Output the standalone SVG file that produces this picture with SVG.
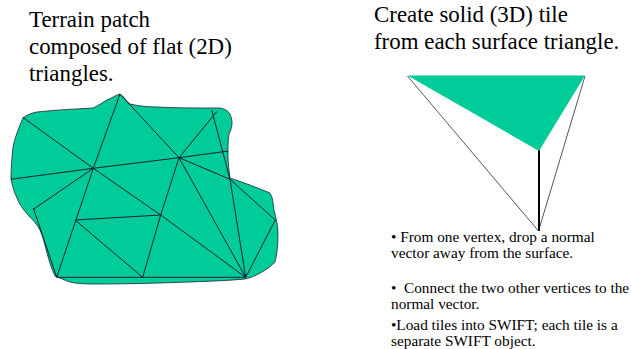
<svg xmlns="http://www.w3.org/2000/svg" width="631" height="349" viewBox="0 0 631 349">
<style>
text{font-family:"Liberation Serif","Times New Roman",serif;fill:#000}
.h{font-size:22.9px}
.s{font-size:15.3px}
.m{fill:none;stroke:#123;stroke-width:1}
</style>
<rect width="631" height="349" fill="#fff"/>
<g id="terrain-patch">
<path d="M120 94C124 96 126 102 130 104C138 106 148 107 157 107C175 108 200 108 220 108C226 109 230 112 231 117C233 122 232 128 229 134C227 148 228 165 230 178C245 183 258 188 270 193C273 198 273 203 274 210C276 218 278 226 278 233C278 245 277 255 275 262C270 267 266 270 260 273C255 276 250 278 245 279C225 281 208 281 190 282C160 283 130 284 100 284C88 284 78 284 70 282C64 280 60 278 55 276C51 268 49 260 47 253C45 245 43 237 40 230C37 224 32 219 28 215C23 209 19 204 17 198C14 192 12 185 11 178C11 167 12 157 13 147C15 137 19 127 23 118C27 115 31 113 37 112C55 110 75 109 93 108C98 106 103 102 107 100C112 98 116 95 120 94Z" fill="#00cc99" stroke="#223" stroke-width="0.8"/>
</g>
<g id="connectors">
<path class="m" d="M22.700 117.300L93.300 168.300L160.700 215L245.700 277.300M120 94L93.300 168.300L56.700 277.300M10.700 179.300L93.300 168.300L179 157.700L228.300 151M33.300 209.300L93.300 168.300M120 94L179 157.700M216.700 111.700L179 157.700M211.700 110L230 179.300M179 157.700L230 179.300L275.300 220L245.700 277.300M230 179.300L245.700 277.300M179 157.700L245.700 277.300M179 157.700L160.700 215L142.700 277.300M75 220L160.700 215M75 220L142.700 277.300M56.700 277.300L245.700 277.300M33.300 208L56.700 277.300"/>
<path d="M407.500 76L538.500 231" fill="none" stroke="#555" stroke-width="1"/>
<path d="M585 76L538.500 231" fill="none" stroke="#555" stroke-width="1"/>
<path d="M539 150L539 231" fill="none" stroke="#000" stroke-width="2"/>
</g>
<g id="surface-triangle">
<polygon points="407.500,75.500 585,75.500 539,151" fill="#00cc99"/>
</g>
<g id="titles">
<text class="h" x="29" y="27">Terrain patch</text>
<text class="h" x="29" y="54">composed of flat (2D)</text>
<text class="h" x="29" y="81">triangles.</text>
<text class="h" x="374" y="22">Create solid (3D) tile</text>
<text class="h" x="374" y="49">from each surface triangle.</text>
</g>
<g id="notes">
<text class="s" x="391" y="242">• From one vertex, drop a normal</text>
<text class="s" x="391" y="258">vector away from the surface.</text>
<text class="s" x="391" y="292.500">•&#160;&#160;Connect the two other vertices to the</text>
<text class="s" x="391" y="308.500">normal vector.</text>
<text class="s" x="391" y="330">•Load tiles into SWIFT; each tile is a</text>
<text class="s" x="391" y="346">separate SWIFT object.</text>
</g>
</svg>
